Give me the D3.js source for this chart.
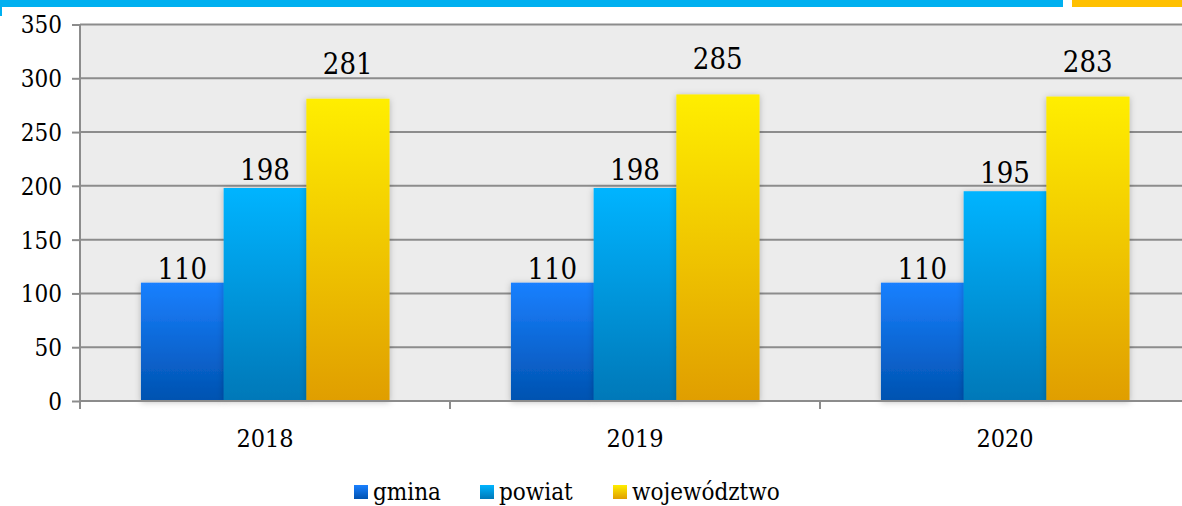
<!DOCTYPE html>
<html>
<head>
<meta charset="utf-8">
<script src="https://cdn.jsdelivr.net/npm/d3@7"></script>
<style>
  body { margin: 0; background: #fff; }
  svg text { font-family: "DejaVu Serif", serif; font-stretch: condensed; fill: #000; }
</style>
</head>
<body>
<div id="chart"></div>
<script>
const years = ["2018", "2019", "2020"];
const series = ["gmina", "powiat", "województwo"];
const gmina = [110, 110, 110];
const powiat = [198, 198, 195];
const wojewodztwo = [281, 285, 283];
const yTicks = [0, 50, 100, 150, 200, 250, 300, 350];

const values = [gmina, powiat, wojewodztwo];
const gradients = [
  ["#1a80ff", "#0052b0"],
  ["#00b4ff", "#0078b8"],
  ["#ffee00", "#e09e00"]
];
const labelLift = [4, 8, 25];

const width = 1182, height = 506;
const svg = d3.select("#chart").append("svg")
  .attr("width", width)
  .attr("height", height);

const defs = svg.append("defs");
gradients.forEach((g, i) => {
  const lg = defs.append("linearGradient")
    .attr("id", "grad" + i)
    .attr("x1", 0).attr("y1", 0).attr("x2", 0).attr("y2", 1);
  lg.append("stop").attr("offset", "0%").attr("stop-color", g[0]);
  lg.append("stop").attr("offset", "100%").attr("stop-color", g[1]);
});
defs.append("filter").attr("id", "shadow")
  .attr("x", "-20%").attr("y", "-10%").attr("width", "140%").attr("height", "120%")
  .append("feDropShadow")
  .attr("dx", 0).attr("dy", 1).attr("stdDeviation", 3)
  .attr("flood-color", "#000").attr("flood-opacity", 0.25);

// top banner
svg.append("rect").attr("x", 0).attr("y", 0).attr("width", 1063).attr("height", 7).attr("fill", "#00b0f0");
svg.append("rect").attr("x", 1072).attr("y", 0).attr("width", 110).attr("height", 7).attr("fill", "#ffc000");
svg.append("rect").attr("x", 0).attr("y", 7).attr("width", 2).attr("height", 9).attr("fill", "#00b0f0");

const x = d3.scaleBand().domain(years).range([80, 1190]);
const xs = d3.scaleBand().domain(series).range([0, x.bandwidth()]).paddingOuter(0.737);
const y = d3.scaleLinear().domain([0, 350]).range([401, 24.5]);

// plot background
svg.append("rect")
  .attr("x", 80).attr("y", y(350))
  .attr("width", width - 80).attr("height", y(0) - y(350))
  .attr("fill", "#ececec");

// gridlines + y axis
const yAxis = svg.append("g")
  .attr("transform", "translate(80,0)")
  .call(d3.axisLeft(y).tickValues(yTicks).tickSize(8).tickPadding(10));
yAxis.select(".domain").remove();
yAxis.selectAll("line").attr("stroke", "#8c8c8c").attr("stroke-width", 2);
yAxis.selectAll("text").style("font-size", "24px").attr("fill", "#000").attr("dy", "0.35em");

svg.append("g").selectAll("line")
  .data(yTicks)
  .join("line")
  .attr("x1", 80).attr("x2", width)
  .attr("y1", d => y(d)).attr("y2", d => y(d))
  .attr("stroke", "#8c8c8c").attr("stroke-width", 2);

// bars
years.forEach((yr, j) => {
  const g = svg.append("g").attr("transform", `translate(${x(yr)},0)`);
  series.forEach((s, i) => {
    const v = values[i][j];
    g.append("rect")
      .attr("x", xs(s))
      .attr("y", y(v))
      .attr("width", xs.bandwidth() + 0.5)
      .attr("height", y(0) - y(v))
      .attr("fill", `url(#grad${i})`)
      .attr("filter", "url(#shadow)");
  });
  series.forEach((s, i) => {
    const v = values[i][j];
    g.append("text")
      .attr("x", xs(s) + xs.bandwidth() / 2)
      .attr("y", y(v) - labelLift[i])
      .attr("text-anchor", "middle")
      .style("font-size", "29px")
      .text(v);
  });
});

// x axis
svg.append("line")
  .attr("x1", 80).attr("x2", width)
  .attr("y1", y(0)).attr("y2", y(0))
  .attr("stroke", "#8c8c8c").attr("stroke-width", 2);
svg.append("line")
  .attr("x1", 80).attr("x2", 80)
  .attr("y1", y(350)).attr("y2", y(0) + 8)
  .attr("stroke", "#8c8c8c").attr("stroke-width", 2);
svg.append("g").selectAll("line")
  .data(years.slice(1))
  .join("line")
  .attr("x1", d => x(d)).attr("x2", d => x(d))
  .attr("y1", y(0)).attr("y2", y(0) + 8)
  .attr("stroke", "#8c8c8c").attr("stroke-width", 2);
svg.append("g").selectAll("text")
  .data(years)
  .join("text")
  .attr("x", d => x(d) + x.bandwidth() / 2)
  .attr("y", 447)
  .attr("text-anchor", "middle")
  .style("font-size", "25px")
  .text(d => d);

// legend
const legendX = [354, 480, 613];
const legend = svg.append("g");
series.forEach((s, i) => {
  legend.append("rect")
    .attr("x", legendX[i]).attr("y", 485)
    .attr("width", 14).attr("height", 14)
    .attr("fill", `url(#grad${i})`);
  legend.append("text")
    .attr("x", legendX[i] + 19).attr("y", 500)
    .style("font-size", "24px")
    .text(s);
});
</script>
</body>
</html>
